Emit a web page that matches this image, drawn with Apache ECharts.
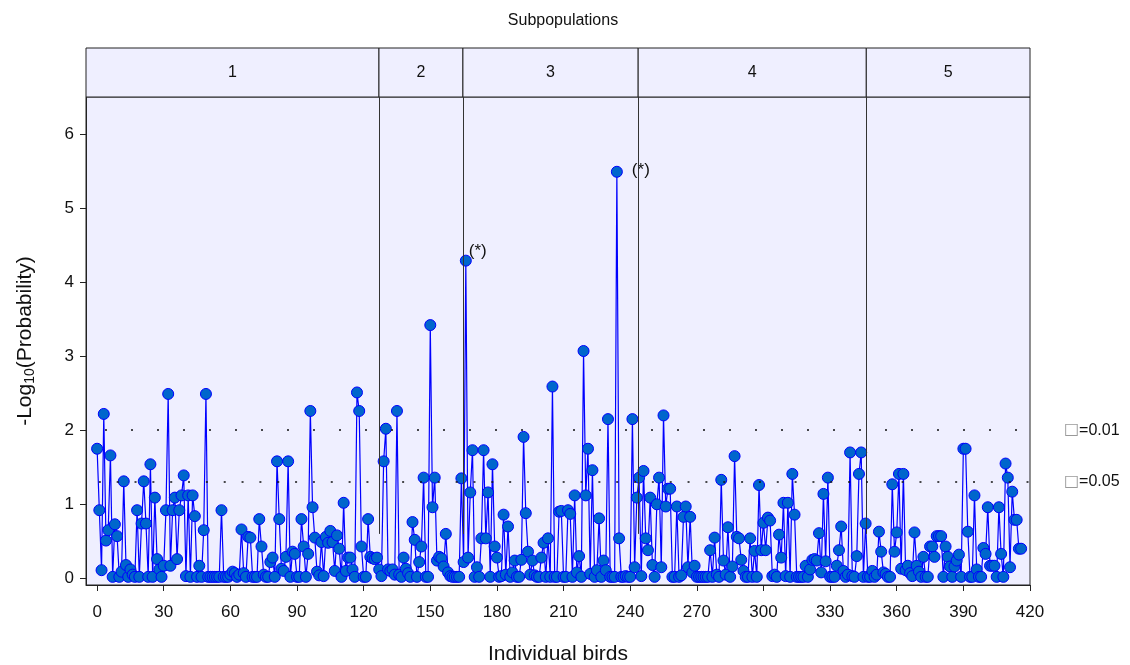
<!DOCTYPE html>
<html>
<head>
<meta charset="utf-8">
<script src="https://cdn.jsdelivr.net/npm/echarts@6/dist/echarts.min.js"></script>
<style>html,body{margin:0;padding:0;background:#fff}#c{width:1130px;height:665px}</style>
</head>
<body>
<div id="c"></div>
<script>
// ---- data ----
const pop1Values = [
 1.75,0.92,0.11,2.22,0.51,0.65,1.66,0.02,0.73,0.57,
 0.02,0.09,1.31,0.18,0.02,0.12,0.05,0.02,0.92,0.02,
 0.74,1.31,0.74,0.02,1.54,0.02,1.09,0.26,0.12,0.02,
 0.17,0.92,2.49,0.17,0.92,1.09,0.26,0.92,1.12,1.39,
 0.03,1.12,0.02,1.12,0.84,0.02,0.17,0.02,0.65,2.49,
 0.02,0.02,0.02,0.02,0.02,0.02,0.92,0.02,0.02,0.02,
 0.05,0.09,0.07,0.02,0.05,0.66,0.07,0.02,0.56,0.55,
 0.02,0.02,0.02,0.80,0.43,0.05,0.02,0.02,0.22,0.28,
 0.02,1.58,0.80,0.13,0.10,0.29,1.58,0.02,0.36,0.33,
 0.02,0.02,0.80,0.43,0.02,0.33,2.26,0.96,0.55,0.09,
 0.04,0.49,0.03,0.56,0.48,0.64,0.49,0.10,0.58,0.40,
 0.02,1.02,0.10,0.28,0.28,0.12,0.02,2.51,2.26,0.43,
 0.02,0.02,0.80,0.29,0.27,0.26,0.28
];
const pop2Values = [
 0.12,0.03,1.58,
 2.02,0.12,0.10,0.12,0.05,2.26,0.05,0.02,0.28,0.13,
 0.07,0.02,0.76,0.52,0.02,0.22,0.43,1.36,0.02,0.02,
 3.42,0.96,1.36,0.24,0.29,0.27,0.16,0.60,0.08,0.03,
 0.02,0.02,0.02,0.02,1.35
];
const pop3Values = [
 0.22,4.29,0.28,1.16,1.73,
 0.02,0.15,0.02,0.54,1.73,0.54,1.16,0.02,1.54,0.43,
 0.28,0.02,0.03,0.86,0.05,0.70,0.02,0.08,0.24,0.02,
 0.02,0.25,1.91,0.88,0.36,0.05,0.24,0.04,0.02,0.02,
 0.28,0.48,0.02,0.54,0.02,2.59,0.02,0.02,0.90,0.91,
 0.02,0.02,0.92,0.87,0.02,1.12,0.08,0.30,0.02,3.07,
 1.12,1.75,0.06,1.46,0.02,0.11,0.81,0.02,0.24,0.11,
 2.15,0.02,0.02,0.02,5.49,0.54,0.02,0.02,0.03,0.02,
 0.02,2.15,0.15,1.09
];
const pop4Values = [
 1.36,0.03,1.45,0.54,0.38,1.09,
 0.18,0.02,1.00,1.36,0.15,2.20,0.97,1.21,1.21,0.02,
 0.02,0.97,0.02,0.04,0.83,0.97,0.15,0.83,0.08,0.17,
 0.02,0.02,0.02,0.02,0.02,0.02,0.38,0.02,0.55,0.05,
 0.02,1.33,0.24,0.05,0.69,0.02,0.16,1.65,0.56,0.54,
 0.25,0.10,0.02,0.02,0.54,0.02,0.37,0.02,1.26,0.38,
 0.75,0.38,0.82,0.78,0.03,0.05,0.02,0.59,0.28,1.02,
 0.03,1.02,0.02,1.41,0.86,0.02,0.02,0.02,0.02,0.17,
 0.02,0.12,0.25,0.26,0.24,0.61,0.08,1.14,0.23,1.36,
 0.02,0.02,0.02,0.17,0.38,0.70,0.10,0.02,0.05,1.70,
 0.03,0.02,0.30,1.41,1.70,0.02,0.74
];
const pop5Values = [
 0.02,0.02,0.10,
 0.02,0.05,0.63,0.36,0.08,0.06,0.02,0.02,1.27,0.36,
 0.62,1.41,0.13,1.41,0.11,0.17,0.07,0.03,0.62,0.17,
 0.09,0.02,0.29,0.02,0.02,0.43,0.43,0.29,0.57,0.57,
 0.57,0.02,0.43,0.29,0.16,0.02,0.16,0.24,0.32,0.02,
 1.75,1.75,0.63,0.02,0.02,1.12,0.12,0.02,0.02,0.41,
 0.33,0.96,0.17,0.17,0.17,0.02,0.96,0.33,0.02,1.55,
 1.36,0.15,1.17,0.79,0.79,0.40,0.40
];
const starredBirds = [166, 234];
const subpopNames = ['1','2','3','4','5'];
const subpopBounds = [-5, 126.9, 164.7, 243.6, 346.3, 420];
const thresholds = [2, 1.301];
const thresholdLabels = ['=0.01', '=0.05'];
const xTicks = [0,30,60,90,120,150,180,210,240,270,300,330,360,390,420];
const yTicks = [0,1,2,3,4,5,6];

// ---- build ----
const FONT = '"Liberation Sans", Arial, sans-serif';
const allValues = [].concat(pop1Values, pop2Values, pop3Values, pop4Values, pop5Values);
const seriesData = allValues.map((v, i) => {
  if (starredBirds.indexOf(i) >= 0) {
    const big = v > 5;
    return { value: [i, v], label: { show: true, formatter: '(*)', position: big ? [21, -4] : [9, -12],
      fontSize: 17, color: '#111', fontFamily: FONT } };
  }
  return [i, v];
});

const stripAreas = subpopNames.map((n, k) => [
  { xAxis: subpopBounds[k], name: n },
  { xAxis: subpopBounds[k + 1] }
]);
const dividerLines = subpopBounds.slice(1, -1).map(b => [
  { coord: [b, 0.6] }, { coord: [b, 6.5] }
]);
const dashPatterns = [{ type: [2, 24], dashOffset: 7 }, { type: [2, 15.84], dashOffset: 5 }];
const thresholdLines = thresholds.map((t, k) => ({
  yAxis: t,
  lineStyle: Object.assign({ color: '#111', width: 1.6 }, dashPatterns[k]),
  label: { formatter: '{b|□}' + thresholdLabels[k] }
}));

const chart = echarts.init(document.getElementById('c'), null, { renderer: 'canvas' });
chart.setOption({
  animation: false,
  backgroundColor: '#ffffff',
  textStyle: { fontFamily: FONT },
  title: {
    text: 'Subpopulations', left: 558, top: 8, textAlign: 'center',
    textStyle: { fontSize: 16, fontWeight: 'normal', color: '#111', fontFamily: FONT }
  },
  grid: [
    { left: 86, right: 100, top: 97, bottom: 80, show: true, backgroundColor: '#EFEFFF', borderColor: '#222', borderWidth: 1,
      containLabel: false, outerBoundsMode: 'none' },
    { left: 86, right: 100, top: 48, height: 49, show: false, containLabel: false, outerBoundsMode: 'none' }
  ],
  xAxis: [
    {
      type: 'value', gridIndex: 0, min: -5, max: 420,
      splitLine: { show: false },
      axisLine: { show: true, onZero: false, lineStyle: { color: '#222' } },
      axisTick: { show: true, length: 6, customValues: xTicks, lineStyle: { color: '#222' } },
      axisLabel: { customValues: xTicks, fontSize: 17, color: '#111', margin: 19, fontFamily: FONT },
      name: 'Individual birds', nameLocation: 'middle', nameGap: 59,
      nameTextStyle: { fontSize: 21, color: '#111', fontFamily: FONT }
    },
    { type: 'value', gridIndex: 1, min: -5, max: 420, show: false }
  ],
  yAxis: [
    {
      type: 'value', gridIndex: 0, min: -0.09, max: 6.5,
      splitLine: { show: false },
      axisLine: { show: true, onZero: false, lineStyle: { color: '#222' } },
      axisTick: { show: true, length: 6, customValues: yTicks, lineStyle: { color: '#222' } },
      axisLabel: { customValues: yTicks, fontSize: 17, color: '#111', margin: 12, fontFamily: FONT },
      name: '{a|-Log}{s|10}{a|(Probability)}', nameLocation: 'middle', nameGap: 49,
      nameTextStyle: {
        color: '#111', fontFamily: FONT,
        rich: {
          a: { fontSize: 21, color: '#111', fontFamily: FONT },
          s: { fontSize: 14, color: '#111', fontFamily: FONT, verticalAlign: 'bottom', padding: [9, 0, 0, 0] }
        }
      }
    },
    { type: 'value', gridIndex: 1, min: 0, max: 1, show: false }
  ],
  series: [
    {
      type: 'scatter', xAxisIndex: 1, yAxisIndex: 1, data: [], silent: true,
      markArea: {
        silent: true,
        itemStyle: { color: '#EFEFFF', borderColor: '#222', borderWidth: 1 },
        label: { show: true, position: 'inside', fontSize: 16, color: '#111', fontFamily: FONT },
        data: stripAreas
      }
    },
    {
      type: 'line', xAxisIndex: 0, yAxisIndex: 0, data: [], silent: true, z: 1,
      markLine: {
        silent: true, symbol: 'none', animation: false,
        lineStyle: { color: '#333', width: 1, type: 'solid' },
        label: { show: false },
        data: dividerLines
      }
    },
    {
      type: 'line', xAxisIndex: 0, yAxisIndex: 0, data: [], silent: true, z: 1,
      markLine: {
        silent: true, symbol: 'none', animation: false,
        label: {
          show: true, position: 'end', distance: 34, fontSize: 16, color: '#111', fontFamily: FONT,
          rich: { b: { fontSize: 16, color: '#999', fontFamily: '"DejaVu Sans", sans-serif' } }
        },
        data: thresholdLines
      }
    },
    {
      type: 'line', xAxisIndex: 0, yAxisIndex: 0, z: 3,
      data: seriesData,
      symbol: 'circle', symbolSize: 11, showSymbol: true,
      lineStyle: { color: '#0000FF', width: 1.2 },
      itemStyle: { color: '#0066CC', borderColor: '#0000FF', borderWidth: 1 },
      emphasis: { disabled: true }
    }
  ]
});
</script>
</body>
</html>
